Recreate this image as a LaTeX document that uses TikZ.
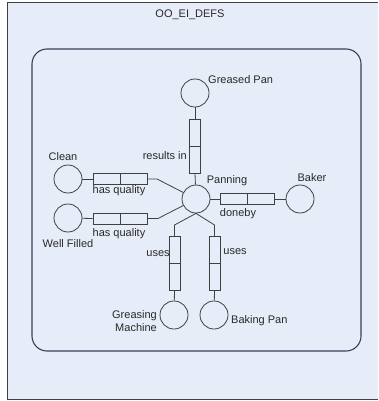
\documentclass[tikz,border=0pt]{standalone}
\usepackage{fontspec}
\setmainfont{Liberation Sans}
\usepackage{tikz}
\usetikzlibrary{calc}

\definecolor{panebg}{RGB}{231,237,248}
\definecolor{inkgray}{RGB}{64,64,64}
\definecolor{txtgray}{RGB}{40,40,40}

\begin{document}
\begin{tikzpicture}[x=1pt, y=-1pt,
    thing/.style={circle, draw=inkgray, line width=0.8pt, minimum size=28pt, inner sep=0pt},
    hbox/.style={rectangle, draw=inkgray, line width=0.8pt, minimum width=54pt, minimum height=11pt, inner sep=0pt},
    vbox/.style={rectangle, draw=inkgray, line width=0.8pt, minimum width=11pt, minimum height=54pt, inner sep=0pt},
    link/.style={draw=inkgray, line width=0.8pt},
    lbl/.style={text=txtgray, font=\fontsize{11}{12.5}\selectfont, inner sep=0pt}
  ]
  \useasboundingbox (0,0) rectangle (378,401);
  % The outer pane
  \fill[panebg] (7,3) rectangle (378,399);
  \draw[black!75, line width=1pt] (378,3) -- (7,3) -- (7,399) -- (378,399);
  \node[lbl] (title) at (190,15) {OO\_EI\_DEFS};
  % The inner frame
  \draw[gray!80!blue!60!black, line width=1.1pt, rounded corners=15pt] (32,49) rectangle (361,351);
  % Centre concept
  \node[thing] (panning) at (196,199) {};
  \node[lbl] at (227,181) {Panning};
  % Greased Pan, above
  \node[thing] (greased) at (195,93) {};
  \node[lbl, anchor=west] at (208,80) {Greased Pan};
  \node[vbox] (resin) at (195,146) {};
  \draw[link] (resin.west) -- (resin.east);
  \node[lbl, anchor=east] at (187,156) {results in};
  \draw[link] (greased) -- (resin.north);
  \draw[link] (resin.south) -- (panning);
  % Clean
  \node[thing] (clean) at (68,179) {};
  \node[lbl] at (63,157) {Clean};
  \node[hbox] (quala) at (120,179) {};
  \draw[link] (quala.north) -- (quala.south);
  \node[lbl] at (119,191) {has quality};
  \draw[link] (clean) -- (quala.west);
  \coordinate (benda) at (157,179);
  \draw[link] (quala.east) -- (benda) -- (panning);
  % Well Filled
  \node[thing] (filled) at (68,218) {};
  \node[lbl] at (68,244) {Well Filled};
  \node[hbox] (qualb) at (120,218.5) {};
  \draw[link] (qualb.north) -- (qualb.south);
  \node[lbl] at (119,234) {has quality};
  \draw[link] (filled) -- (qualb.west);
  \coordinate (bendb) at (158,218.5);
  \draw[link] (qualb.east) -- (bendb) -- (panning);
  % Baker
  \node[thing] (baker) at (300,199) {};
  \node[lbl] at (312,178) {Baker};
  \node[hbox] (done) at (247.5,199) {};
  \draw[link] (done.north) -- (done.south);
  \node[lbl] at (238,214) {doneby};
  \draw[link] (panning) -- (done.west);
  \draw[link] (done.east) -- (baker);
  % Greasing Machine
  \node[thing] (machine) at (174,315) {};
  \node[lbl, align=right, anchor=east] at (157,321) {Greasing\\Machine};
  \node[vbox] (usesa) at (174.5,263.5) {};
  \draw[link] (usesa.west) -- (usesa.east);
  \node[lbl] at (158,254) {uses};
  \coordinate (bendc) at (174.5,225);
  \draw[link] (panning.south) -- (bendc) -- (usesa.north);
  \draw[link] (usesa.south) -- (machine);
  % Baking Pan
  \node[thing] (bpan) at (214,315) {};
  \node[lbl, anchor=west] at (231,321) {Baking Pan};
  \node[vbox] (usesb) at (214.5,263.5) {};
  \draw[link] (usesb.west) -- (usesb.east);
  \node[lbl] at (235,252) {uses};
  \coordinate (bendd) at (214.5,225);
  \draw[link] (panning.south) -- (bendd) -- (usesb.north);
  \draw[link] (usesb.south) -- (bpan);
\end{tikzpicture}
\end{document}
